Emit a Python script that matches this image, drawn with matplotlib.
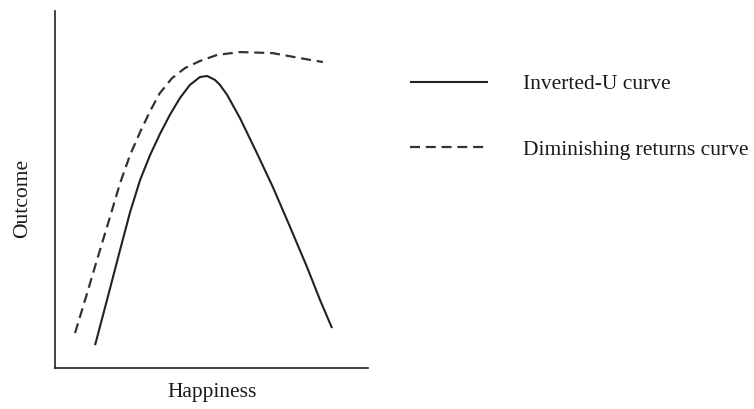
import matplotlib
matplotlib.use("Agg")
import matplotlib.pyplot as plt

# Happiness (x) and outcome (y) on an arbitrary 0-10 scale
inv_u_x = [1.28, 1.66, 2.08, 2.40, 2.72, 3.04, 3.35, 3.67, 3.99, 4.31, 4.63, 4.86,
           5.11, 5.27, 5.50, 5.91, 6.45, 6.96, 7.51, 8.05, 8.47, 8.85]
inv_u_y = [0.64, 1.90, 3.31, 4.37, 5.27, 5.97, 6.55, 7.09, 7.56, 7.93, 8.15, 8.18,
           8.07, 7.93, 7.65, 7.00, 6.02, 5.07, 3.95, 2.83, 1.90, 1.12]

dim_x = [0.64, 0.99, 1.37, 1.73, 2.08, 2.40, 2.72, 3.04, 3.35, 3.74, 4.15, 4.63,
         5.18, 5.91, 6.96, 7.83, 8.56]
dim_y = [0.98, 1.99, 3.11, 4.15, 5.18, 5.97, 6.61, 7.20, 7.70, 8.12, 8.40, 8.60,
         8.77, 8.85, 8.82, 8.68, 8.57]

labels = ["Inverted-U curve", "Diminishing returns curve"]
x_label = "Happiness"
y_label = "Outcome"

plt.rcParams['font.family'] = ['Liberation Serif', 'DejaVu Serif']

W, H = 754, 409
fig = plt.figure(figsize=(W / 100, H / 100), dpi=100)
ax = fig.add_axes([55 / W, 1 - 368 / H, (368 - 55) / W, (368 - 11) / H])

ax.plot(inv_u_x, inv_u_y, color="#222222", lw=1.5, solid_capstyle="butt",
        solid_joinstyle="round", label=labels[0])
ax.plot(dim_x, dim_y, color="#333333", lw=1.6, dashes=(4.5, 2.6),
        label=labels[1])

ax.set_xlim(0, 10)
ax.set_ylim(0, 10)
ax.set_xticks([])
ax.set_yticks([])
for s in ["top", "right"]:
    ax.spines[s].set_visible(False)
for s in ["left", "bottom"]:
    ax.spines[s].set_linewidth(1.2)
    ax.spines[s].set_color("#222222")

fs = 15.5
fig.text(212 / W, 1 - 392 / H, x_label, fontsize=fs, ha="center", va="center",
         color="#1a1a1a")
fig.text(23 / W, 1 - 198 / H, y_label, fontsize=fs, ha="center", va="center",
         rotation=90, color="#1a1a1a")

leg = ax.legend(loc="upper left", bbox_to_anchor=(410 / W, 1 - 74 / H),
                bbox_transform=fig.transFigure, frameon=False, fontsize=fs,
                handlelength=3.63, handletextpad=1.63, labelspacing=2.13,
                borderpad=0, borderaxespad=0)
for t in leg.get_texts():
    t.set_color("#1a1a1a")

fig.savefig("out.png", dpi=100)
